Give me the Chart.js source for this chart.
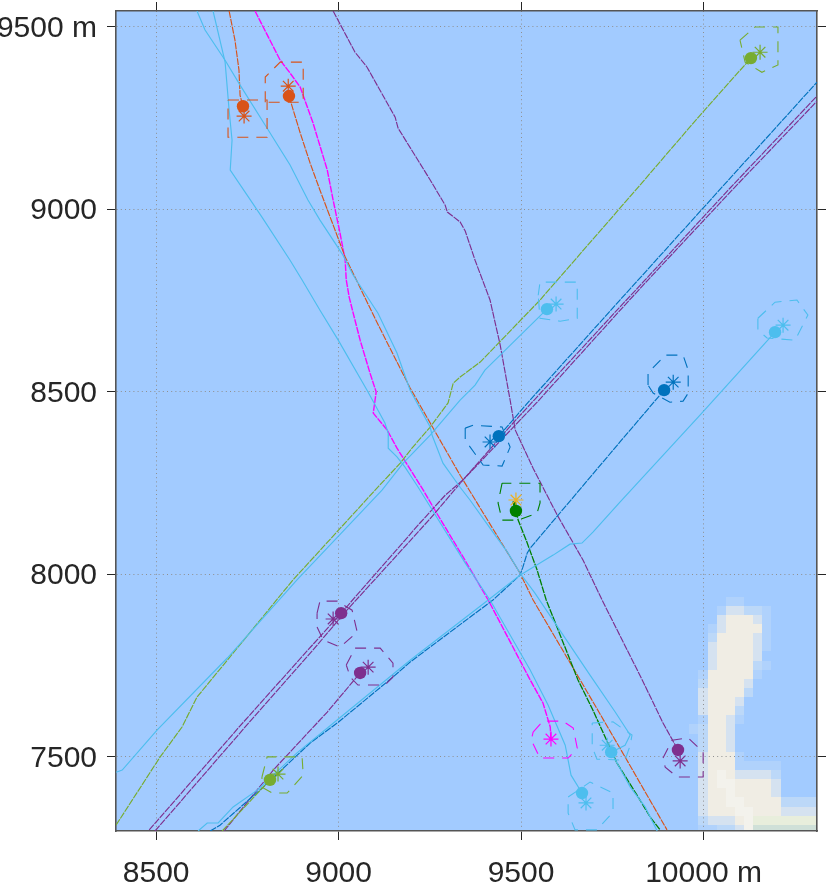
<!DOCTYPE html>
<html><head><meta charset="utf-8">
<style>html,body{margin:0;padding:0;background:#fff;overflow:hidden}canvas{display:block}</style>
<script src="https://cdn.jsdelivr.net/npm/chart.js@4/dist/chart.umd.min.js"></script>
</head><body><canvas id="c" width="831" height="887"></canvas>
<script>
const xRange=[8390,10311], yRange=[7296,9543];
const xTicks=[8500,9000,9500,10000], yTicks=[7500,8000,8500,9000,9500];

const orange='#d95319',blue='#0072bd',sky='#4dbeee',lime='#77ac30',purple='#7e2f8e',magenta='#ff00ff',green='#008000',yellow='#edb120';

// tracks
const trackOrange1=[[8700,9543],[8716,9463],[8727,9381],[8730,9312],[8738,9282]];
const trackOrange2=[[8864,9310],[8895,9208],[8922,9126],[8949,9052],[8977,8978],[9018,8869],[9106,8688],[9196,8510],[9333,8271],[9497,8003],[9533,7929],[9662,7710],[9785,7499],[9900,7299]];
const trackMagenta=[[8771,9543],[8840,9408],[8867,9373],[8895,9334],[8930,9236],[8969,9107],[8985,9025],[9004,8934],[9018,8860],[9021,8806],[9029,8759],[9040,8715],[9059,8641],[9086,8551],[9103,8499],[9095,8441],[9133,8395],[9160,8345],[9232,8230],[9264,8175],[9341,8047],[9410,7929],[9525,7710],[9560,7647],[9580,7581],[9582,7548]];
const trackPurple1=[[8985,9543],[9045,9430],[9078,9389],[9155,9252],[9163,9222],[9251,9080],[9292,9011],[9298,8992],[9333,8965],[9347,8940],[9374,8860],[9415,8751],[9443,8627],[9470,8477],[9484,8395],[9533,8290],[9599,8162],[9670,8038],[9722,7929],[9832,7710],[9889,7592],[9930,7518]];
const trackPurple2=[[8481,7299],[8730,7584],[8916,7792],[9007,7893],[9223,8140],[9292,8216],[9341,8258],[9478,8414],[9536,8477],[9771,8732],[9840,8806],[10073,9058],[10311,9310]];
const trackPurple3=[[8497,7296],[8744,7581],[8930,7792],[9018,7896],[9223,8121],[9264,8167],[9341,8258],[9544,8471],[9777,8729],[9845,8803],[10078,9052],[10311,9296]];
const trackPurple4=[[8686,7296],[8821,7463],[8969,7622],[9059,7729]];
const trackSky1=[[8656,9543],[8689,9403],[8700,9271],[8708,9189],[8703,9107],[8790,8978],[8867,8860],[8900,8806],[8949,8723],[8999,8641],[9078,8504],[9127,8414],[9136,8386],[9136,8345],[9160,8321],[9182,8293],[9218,8238],[9347,8030],[9415,7929],[9525,7737],[9574,7641],[9621,7531],[9637,7449],[9667,7400]];
const trackSky2=[[8612,9543],[8634,9491],[8689,9408],[8730,9340],[8799,9230],[8867,9121],[8916,9025],[8949,8970],[9012,8874],[9040,8819],[9108,8715],[9160,8606],[9196,8504],[9251,8403],[9256,8381],[9286,8304],[9333,8238],[9360,8203],[9415,8126],[9464,8058],[9497,8003],[9538,7948],[9689,7723],[9758,7622],[9799,7559],[9785,7531],[9747,7512]];
const trackSky3=[[9747,7512],[9799,7417],[9840,7362],[9873,7296]];
const trackSky4=[[8390,7457],[8407,7463],[8503,7573],[8695,7770],[8886,7984],[9119,8230],[9177,8304],[9251,8381],[9333,8477],[9374,8518],[9401,8559],[9571,8726]];
const trackSky5=[[8615,7296],[8640,7318],[8670,7318],[8711,7362],[8777,7408],[8886,7510],[8996,7600],[9196,7764],[9410,7929],[9497,7997],[9588,8052],[9634,8082],[9667,8085],[9697,8115],[9771,8197],[9991,8436],[10196,8663]];
const trackLime1=[[8390,7312],[8511,7499],[8571,7581],[8612,7663],[8695,7764],[8875,7984],[9100,8230],[9169,8304],[9201,8345],[9251,8403],[9300,8469],[9314,8523],[9333,8540],[9388,8581],[9552,8751],[9826,9066],[9991,9258],[10130,9414]];
const trackLime2=[[8681,7296],[8812,7436]];
const trackBlue1=[[8648,7296],[8675,7312],[8793,7416],[8922,7537],[8999,7594],[9149,7718],[9196,7759],[9423,7929],[9497,7997],[9505,8019],[9517,8058],[9525,8071],[9771,8362],[9892,8504]];
const trackBlue2=[[9439,8378],[9525,8477],[9771,8751],[9821,8806],[10073,9085],[10311,9348]];
const trackGreen=[[9486,8173],[9492,8148],[9514,8093],[9544,8011],[9569,7929],[9656,7710],[9697,7627],[9763,7482],[9821,7389],[9854,7334],[9881,7299]];
const stubGreen=[[9481,8200],[9486,8173]];

// dashed rings
const ringOrange1=[[8697,9299],[8804,9299],[8804,9197],[8697,9197]];
const ringOrange2=[[8799,9293],[8799,9362],[8840,9403],[8903,9403],[8903,9293]];
const ringLime1=[[10100,9463],[10141,9499],[10204,9499],[10204,9395],[10160,9375],[10114,9403]];
const ringSky1=[[9547,8764],[9552,8800],[9654,8800],[9654,8701],[9607,8693],[9552,8701]];
const ringSky2=[[10149,8701],[10196,8745],[10256,8751],[10286,8710],[10251,8641],[10174,8647],[10149,8669]];
const ringBlue1=[[9848,8518],[9848,8551],[9895,8600],[9944,8600],[9958,8559],[9958,8496],[9944,8474],[9908,8471],[9862,8496]];
const ringBlue2=[[9347,8400],[9347,8367],[9396,8299],[9448,8296],[9470,8348],[9448,8403],[9369,8408]];
const ringGreen=[[9448,8249],[9437,8195],[9448,8148],[9492,8148],[9544,8167],[9552,8195],[9552,8249]];
const ringMagenta=[[9533,7567],[9560,7597],[9615,7597],[9643,7578],[9654,7523],[9629,7496],[9552,7496],[9528,7545]];
const ringSky3=[[9695,7592],[9752,7595],[9804,7559],[9799,7531],[9785,7490],[9708,7493],[9695,7526]];
const ringSky4=[[9629,7389],[9689,7430],[9752,7400],[9752,7348],[9708,7299],[9648,7299],[9629,7345]];
const ringPurple1=[[9889,7496],[9914,7545],[9958,7551],[9999,7512],[9999,7444],[9928,7444],[9895,7471]];
const ringPurple2=[[8941,7893],[8949,7926],[8996,7926],[9037,7901],[9051,7841],[9004,7800],[8958,7819],[8941,7855]];
const ringPurple3=[[9021,7751],[9045,7797],[9114,7797],[9149,7756],[9149,7718],[9127,7696],[9053,7696],[9032,7718]];
const ringLime2=[[8790,7444],[8804,7499],[8900,7499],[8903,7449],[8859,7400],[8818,7400],[8790,7416]];

// markers: [x, y, colour]
const dots=[[8738,9282,orange],[8864,9310,orange],[10130,9414,lime],[9571,8726,sky],[10196,8663,sky],[9892,8504,blue],[9439,8378,blue],[9486,8173,green],[9930,7518,purple],[9747,7512,sky],[9667,7400,sky],[9007,7893,purple],[9059,7729,purple],[8812,7436,lime]];
const stars=[[8741,9255,orange],[8862,9337,orange],[10155,9430,lime],[9596,8740,sky],[10218,8682,sky],[9917,8526,blue],[9415,8362,blue],[9486,8203,yellow],[9582,7548,magenta],[9936,7488,purple],[9736,7531,sky],[9678,7373,sky],[8985,7877,purple],[9081,7745,purple],[8834,7452,lime]];

// land raster, 25 m cells
const landX0=9961, landY0=7938, landCell=25;
const landRows=[
"....ff........",
"...fbbaaf.....",
"...bcccbf.....",
"..fbccccf.....",
"..accccbf.....",
"..bccccbf.....",
"..bccccb......",
"..bccccaf.....",
".fcccccf......",
".accccb.......",
".bcccca.......",
".bcccb........",
".bccca........",
".fccbf........",
"faccb.........",
".accb.........",
".accb.........",
".bcccf........",
".bcccfffff....",
".bcdcbbbba....",
".bcddccccb....",
".bccdccccb....",
".bccddccccaaaa",
".bcccddcccbbbb",
".abbbcdeeeeeee",
".ffaabdggggggg"];
const landColours={f:'#b0d2fc',a:'#bcd8f8',b:'#d5e2f0',c:'#f0ede4',d:'#f3f2ec',e:'#e8eedc',g:'#cfe0d8'};
const seaColour='#a2cbff';

const track=(d,c,w,dash)=>({data:d.map(p=>({x:p[0],y:p[1]})),showLine:true,borderColor:c,backgroundColor:c,borderWidth:w||1.15,borderDash:dash||[],pointRadius:0,tension:0,order:3});
const broken=[7,1];
const ring=(d,c)=>({data:d.concat([d[0]]).map(p=>({x:p[0],y:p[1]})),showLine:true,borderColor:c,borderWidth:1.1,borderDash:[11,8],pointRadius:0,tension:0,order:2});
const datasets=[
 track(trackSky1,sky),track(trackSky2,sky),track(trackSky3,sky),track(trackSky4,sky),track(trackSky5,sky),
 track(trackLime1,lime,1.15,broken),track(trackLime2,lime,1.15,broken),track(trackBlue1,blue,1.15,broken),track(trackBlue2,blue,1.15,broken),
 track(trackPurple1,purple,1.15,broken),track(trackPurple2,purple,1.15,broken),track(trackPurple3,purple,1.15,broken),track(trackPurple4,purple,1.15,broken),
 track(trackGreen,green,1.3,broken),track(stubGreen,green,3.5),track(trackOrange1,orange,1.15,broken),track(trackOrange2,orange,1.15,broken),track(trackMagenta,magenta,1.4,broken),
 ring(ringOrange1,orange),ring(ringOrange2,orange),ring(ringLime1,lime),ring(ringSky1,sky),ring(ringSky2,sky),ring(ringBlue1,blue),ring(ringBlue2,blue),ring(ringGreen,green),ring(ringMagenta,magenta),ring(ringSky3,sky),ring(ringSky4,sky),ring(ringPurple1,purple),ring(ringPurple2,purple),ring(ringPurple3,purple),ring(ringLime2,lime),
 {data:stars.map(p=>({x:p[0],y:p[1]})),pointStyle:'star',pointRadius:7.5,borderWidth:1.2,pointBorderColor:stars.map(p=>p[2]),pointBackgroundColor:stars.map(p=>p[2]),showLine:false,order:1},
 {data:dots.map(p=>({x:p[0],y:p[1]})),pointStyle:'circle',pointRadius:6.2,borderWidth:0,pointBackgroundColor:dots.map(p=>p[2]),pointBorderColor:dots.map(p=>p[2]),showLine:false,order:0}
];

const land={id:'land',beforeDraw(ch){
 const g=ch.ctx,a=ch.chartArea,sx=ch.scales.x,sy=ch.scales.y;
 g.save();g.fillStyle=seaColour;g.fillRect(a.left,a.top,a.right-a.left,a.bottom-a.top);
 g.beginPath();g.rect(a.left,a.top,a.right-a.left,a.bottom-a.top);g.clip();
 landRows.forEach((row,r)=>{[...row].forEach((k,i)=>{
  if(!landColours[k])return;
  const l=Math.round(sx.getPixelForValue(landX0+i*landCell)),rr=Math.round(sx.getPixelForValue(landX0+(i+1)*landCell));
  const t=Math.round(sy.getPixelForValue(landY0-r*landCell)),b=Math.round(sy.getPixelForValue(landY0-(r+1)*landCell));
  g.fillStyle=landColours[k];g.fillRect(l,t,rr-l,b-t);
 });});
 g.restore();
}};

const frame={display:true,color:'#555555',width:1.6,dash:[1,3.2]};
const tickCol='#262626',gridCol='#8f8f8f';
const font={family:'"Liberation Sans",Arial,sans-serif',size:30};
const fixTicks=v=>s=>{s.ticks=v.map(t=>({value:t}));};
const size=(prop,n)=>s=>{s[prop]=n;s.paddingTop=0;s.paddingBottom=0;s.paddingLeft=0;s.paddingRight=0;};
const chart=new Chart(document.getElementById('c'),{type:'scatter',data:{datasets},plugins:[land],options:{
 responsive:false,animation:false,devicePixelRatio:1,
 layout:{padding:0},
 plugins:{legend:{display:false},tooltip:{enabled:false},title:{display:false}},
 scales:{
  x:{type:'linear',position:'bottom',min:xRange[0],max:xRange[1],afterBuildTicks:fixTicks(xTicks),afterFit:size('height',56),
     border:frame,grid:{color:gridCol,tickColor:tickCol,tickLength:9,lineWidth:1,tickWidth:1},
     ticks:{autoSkip:false,maxRotation:0,padding:16,color:tickCol,font,callback:v=>v===10000?'10000 m':String(v)}},
  y:{type:'linear',position:'left',min:yRange[0],max:yRange[1],afterBuildTicks:fixTicks(yTicks),afterFit:size('width',116),
     border:frame,grid:{color:gridCol,tickColor:tickCol,tickLength:9,lineWidth:1,tickWidth:1},
     ticks:{autoSkip:false,padding:10,color:tickCol,font,callback:v=>v===9500?'9500 m':String(v)}},
  x2:{type:'linear',position:'top',min:xRange[0],max:xRange[1],afterBuildTicks:fixTicks(xTicks),afterFit:size('height',11),
     border:frame,grid:{drawOnChartArea:false,tickColor:tickCol,tickLength:9},ticks:{display:false}},
  y2:{type:'linear',position:'right',min:yRange[0],max:yRange[1],afterBuildTicks:fixTicks(yTicks),afterFit:size('width',14),
     border:frame,grid:{drawOnChartArea:false,tickColor:tickCol,tickLength:9},ticks:{display:false}}
 }
}});
// nudge the y tick labels down to sit where the reference has them
const ys=chart.scales.y,computeItems=ys._computeLabelItems.bind(ys);
ys._computeLabelItems=a=>computeItems(a).map(it=>{it.options.translation[1]+=2;return it;});
ys._labelItems=null;
chart.render();
</script></body></html>
